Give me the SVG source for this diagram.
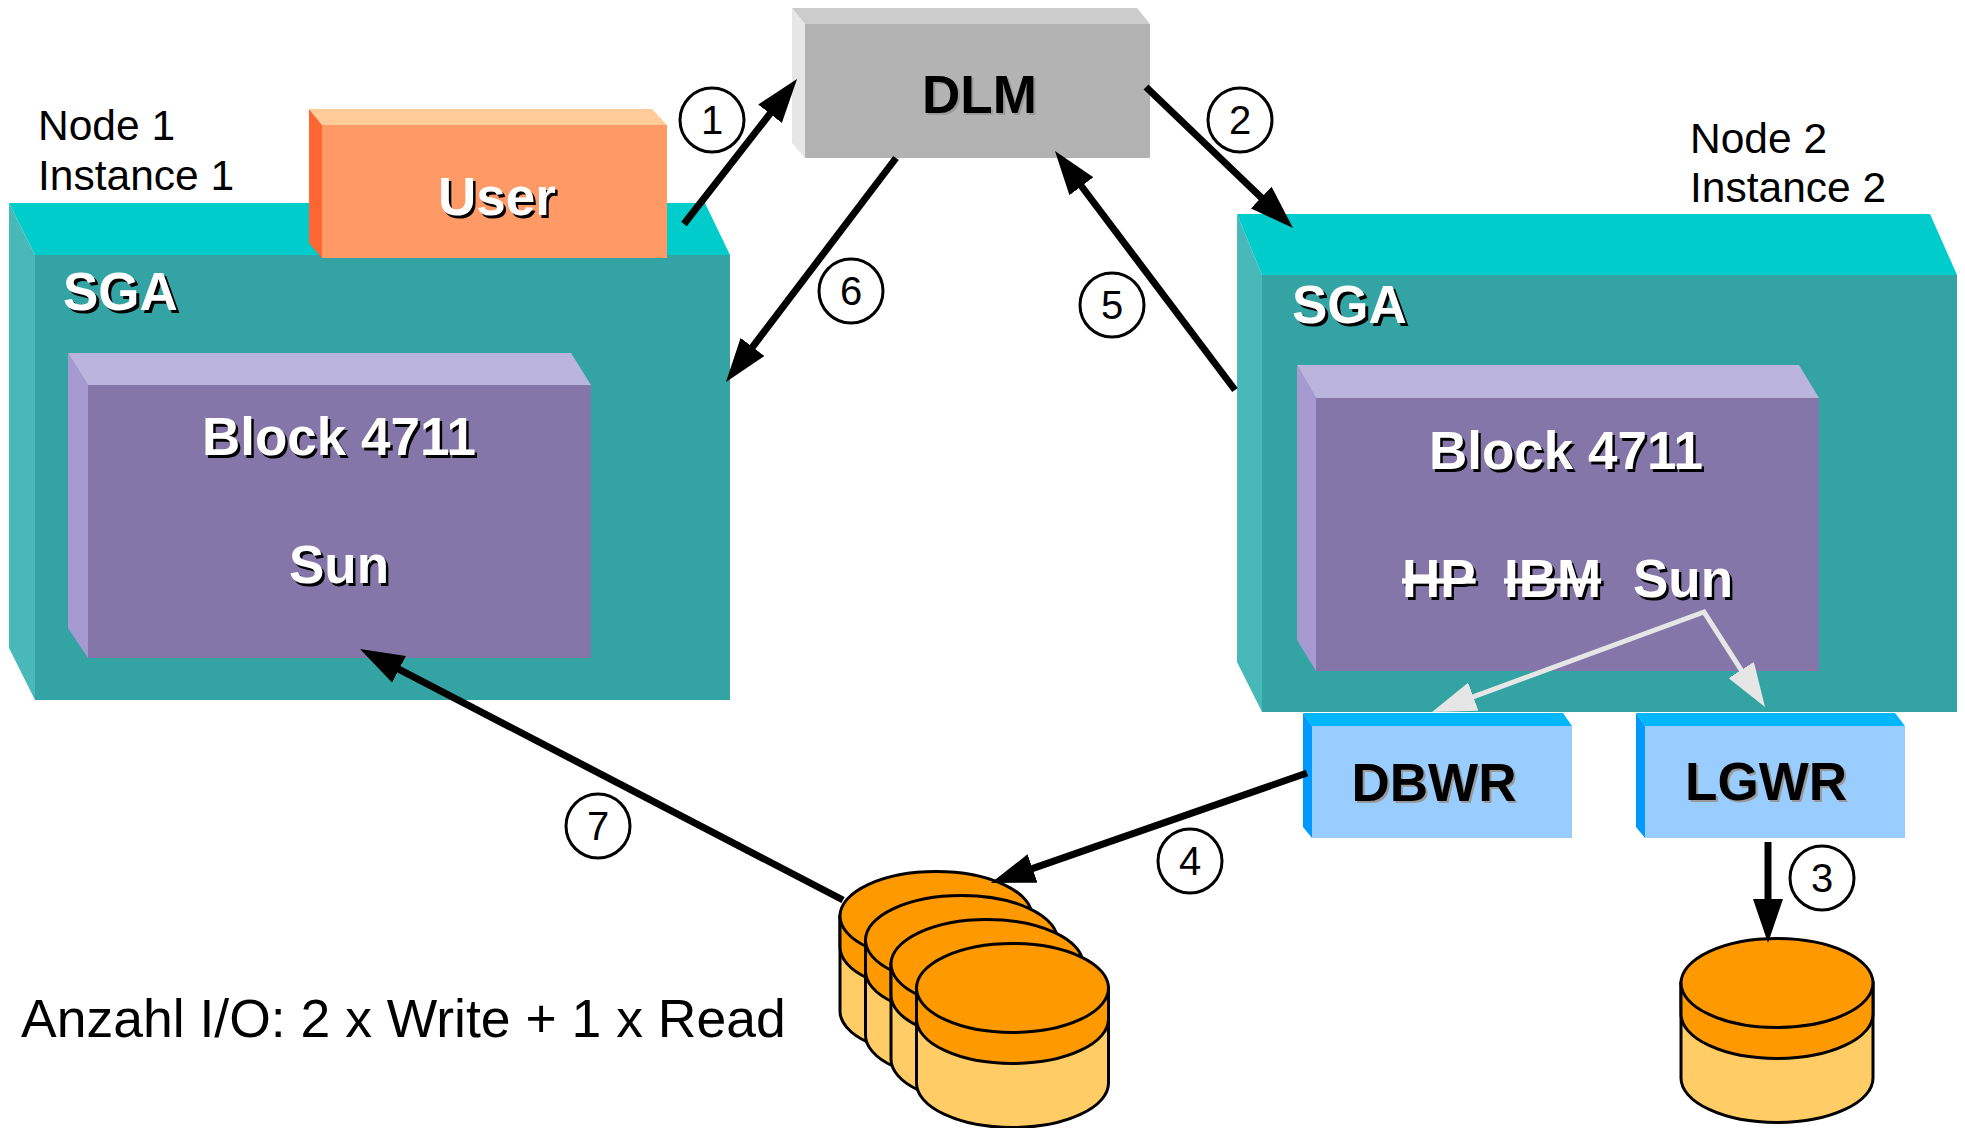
<svg xmlns="http://www.w3.org/2000/svg" xmlns:xlink="http://www.w3.org/1999/xlink" width="1965" height="1128" viewBox="0 0 1965 1128">
<style>
.plain{font-family:"Liberation Sans",Arial,sans-serif;font-size:42.5px;fill:#000}
.lbl{font-family:"Liberation Sans",Arial,sans-serif;font-weight:bold;font-size:53px}
.wt{fill:#fff}
.wsh{fill:#000}
.bt{fill:#000}
.bsh{fill:#999}
.num{font-family:"Liberation Sans",Arial,sans-serif;font-size:40px;fill:#000;text-anchor:middle}
.circ{fill:#fff;stroke:#000;stroke-width:3}
.conn{stroke:#000;stroke-width:7;fill:none}
.wconn{stroke:#E6E6E6;stroke-width:5;fill:none}
.cyl{stroke:#000;stroke-width:3}
.strike{text-decoration:line-through}
</style>
<defs>
<marker id="ah" markerUnits="userSpaceOnUse" markerWidth="44" markerHeight="30" refX="14" refY="15" orient="auto" viewBox="0 0 44 30">
<path d="M0,0 L44,15 L0,30 Z" fill="#000"/>
</marker>
<marker id="wah" markerUnits="userSpaceOnUse" markerWidth="44" markerHeight="30" refX="14" refY="15" orient="auto-start-reverse" viewBox="0 0 44 30">
<path d="M0,0 L44,15 L0,30 Z" fill="#E6E6E6"/>
</marker>
<g id="cyl">
<path class="cyl" d="M-96,0 V95 A96,44.5 0 0 0 96,95 V0 Z" fill="#FFCC66"/>
<path class="cyl" d="M-96,0 V31 A96,44.5 0 0 0 96,31 V0 Z" fill="#FF9900"/>
<ellipse class="cyl" cx="0" cy="0" rx="96" ry="44.5" fill="#FF9900"/>
</g>
</defs>
<rect width="1965" height="1128" fill="#fff"/>

<g id="node1-label">
<text class="plain" x="38" y="140">Node 1</text>
<text class="plain" x="38" y="190">Instance 1</text>
</g>
<g id="node2-label">
<text class="plain" x="1690" y="153">Node 2</text>
<text class="plain" x="1690" y="202">Instance 2</text>
</g>

<g id="sga1">
<polygon points="9,203 705,203 730,255 35,255" fill="#00CCCC"/>
<polygon points="9,203 35,255 35,700 9,648" fill="#48B8B8"/>
<rect x="35" y="255" width="695" height="445" fill="#33A3A3"/>
<text class="lbl wsh" x="66" y="313">SGA</text>
<text class="lbl wt" x="63" y="310">SGA</text>
</g>

<g id="user">
<polygon points="309,109 652,109 667,125 322,125" fill="#FFCC99"/>
<polygon points="309,109 322,125 322,258 309,243" fill="#FF6633"/>
<rect x="322" y="125" width="345" height="133" fill="#FF9966"/>
<text class="lbl wsh" x="499.5" y="217.5" text-anchor="middle">User</text>
<text class="lbl wt" x="497" y="215" text-anchor="middle">User</text>
</g>

<g id="block1">
<polygon points="68,353 571,353 591,385 88,385" fill="#BBB5DD"/>
<polygon points="68,353 88,385 88,658 68,628" fill="#A69AD0"/>
<rect x="88" y="385" width="503" height="273" fill="#8476A8"/>
<text class="lbl wsh" x="341.5" y="457.5" text-anchor="middle">Block 4711</text>
<text class="lbl wt" x="339" y="455" text-anchor="middle">Block 4711</text>
<text class="lbl wsh" x="341.5" y="585.5" text-anchor="middle">Sun</text>
<text class="lbl wt" x="339" y="583" text-anchor="middle">Sun</text>
</g>

<g id="dlm">
<polygon points="792,8 1137,8 1150,24 805,24" fill="#CCCCCC"/>
<polygon points="792,8 805,24 805,158 792,143" fill="#E6E6E6"/>
<rect x="805" y="24" width="345" height="134" fill="#B3B3B3"/>
<text class="lbl bsh" x="981.5" y="115" text-anchor="middle">DLM</text>
<text class="lbl bt" x="979.5" y="113" text-anchor="middle">DLM</text>
</g>

<g id="sga2">
<polygon points="1237,214 1930,214 1957,275 1262,275" fill="#00CCCC"/>
<polygon points="1237,214 1262,275 1262,712 1237,662" fill="#48B8B8"/>
<rect x="1262" y="275" width="695" height="437" fill="#33A3A3"/>
<text class="lbl wsh" x="1295" y="326">SGA</text>
<text class="lbl wt" x="1292" y="323">SGA</text>
</g>

<g id="block2">
<polygon points="1297,365 1799,365 1819,398 1316,398" fill="#BBB5DD"/>
<polygon points="1297,365 1316,398 1316,671 1297,640" fill="#A69AD0"/>
<rect x="1316" y="398" width="503" height="273" fill="#8476A8"/>
<text class="lbl wsh" x="1568.5" y="471.5" text-anchor="middle">Block 4711</text>
<text class="lbl wt" x="1566" y="469" text-anchor="middle">Block 4711</text>
<text class="lbl wsh strike" x="1404.5" y="599.5">HP</text>
<text class="lbl wt strike" x="1402" y="597">HP</text>
<text class="lbl wsh strike" x="1506.5" y="599.5">IBM</text>
<text class="lbl wt strike" x="1504" y="597">IBM</text>
<text class="lbl wsh" x="1635.5" y="599.5">Sun</text>
<text class="lbl wt" x="1633" y="597">Sun</text>
</g>

<g id="dbwr">
<polygon points="1303,713 1563,713 1572,726 1312,726" fill="#00B7FF"/>
<polygon points="1303,713 1312,726 1312,838 1303,827" fill="#0099FF"/>
<rect x="1312" y="726" width="260" height="112" fill="#99CCFF"/>
<text class="lbl bsh" x="1436" y="803" text-anchor="middle">DBWR</text>
<text class="lbl bt" x="1434" y="801" text-anchor="middle">DBWR</text>
</g>

<g id="lgwr">
<polygon points="1636,713 1895,713 1905,726 1645,726" fill="#00B7FF"/>
<polygon points="1636,713 1645,726 1645,838 1636,827" fill="#0099FF"/>
<rect x="1645" y="726" width="260" height="112" fill="#99CCFF"/>
<text class="lbl bsh" x="1768" y="802" text-anchor="middle">LGWR</text>
<text class="lbl bt" x="1766" y="800" text-anchor="middle">LGWR</text>
</g>

<g id="datafiles">
<use xlink:href="#cyl" x="936" y="916"/>
<use xlink:href="#cyl" x="961.5" y="940"/>
<use xlink:href="#cyl" x="987" y="964"/>
<use xlink:href="#cyl" x="1012.5" y="988"/>
</g>

<g id="logfile">
<use xlink:href="#cyl" x="1777" y="983"/>
</g>

<g id="summary">
<text class="plain" x="21" y="1037" style="font-size:53.5px">Anzahl I/O: 2 x Write + 1 x Read</text>
</g>

<g id="connectors">
<path class="wconn" d="M1460.2,701.6 L1704,612 L1748.8,681.8" marker-start="url(#wah)" marker-end="url(#wah)"/>
<line class="conn" x1="684" y1="224" x2="778.6" y2="102.7" marker-end="url(#ah)"/>
<line class="conn" x1="1146" y1="87" x2="1271.3" y2="207.2" marker-end="url(#ah)"/>
<line class="conn" x1="1768" y1="842" x2="1768" y2="913" marker-end="url(#ah)"/>
<line class="conn" x1="1307" y1="773" x2="1019.3" y2="873.1" marker-end="url(#ah)"/>
<line class="conn" x1="1235" y1="390" x2="1073" y2="175" marker-end="url(#ah)"/>
<line class="conn" x1="896" y1="158" x2="744.1" y2="358.1" marker-end="url(#ah)"/>
<line class="conn" x1="843" y1="900" x2="386.6" y2="662.8" marker-end="url(#ah)"/>
</g>

<g id="step-numbers">
<circle class="circ" cx="712" cy="120" r="32"/><text class="num" x="712" y="134">1</text>
<circle class="circ" cx="1240" cy="120" r="32"/><text class="num" x="1240" y="134">2</text>
<circle class="circ" cx="1822" cy="878" r="32"/><text class="num" x="1822" y="892">3</text>
<circle class="circ" cx="1190" cy="861" r="32"/><text class="num" x="1190" y="875">4</text>
<circle class="circ" cx="1112" cy="305" r="32"/><text class="num" x="1112" y="319">5</text>
<circle class="circ" cx="851" cy="291" r="32"/><text class="num" x="851" y="305">6</text>
<circle class="circ" cx="598" cy="826" r="32"/><text class="num" x="598" y="840">7</text>
</g>
</svg>
